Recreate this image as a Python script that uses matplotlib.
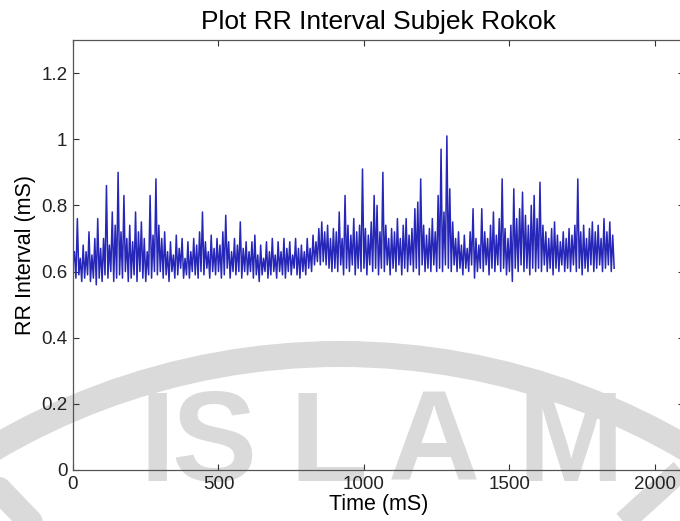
import numpy as np
import matplotlib
matplotlib.use("Agg")
import matplotlib.pyplot as plt
from matplotlib.patches import Wedge

plt.rcParams['font.family'] = ['Liberation Sans', 'DejaVu Sans']

# RR interval samples, one value every 5 samples (trough, peak, trough, ...)
rr = [
    # 0 - 95
    0.62, 0.66, 0.58, 0.76, 0.59, 0.64, 0.57, 0.68, 0.58, 0.66,
    0.59, 0.72, 0.57, 0.65, 0.58, 0.70, 0.56, 0.76, 0.58, 0.67,
    # 100 - 195
    0.57, 0.70, 0.59, 0.86, 0.58, 0.68, 0.60, 0.78, 0.57, 0.74,
    0.58, 0.90, 0.59, 0.72, 0.58, 0.83, 0.60, 0.70, 0.57, 0.74,
    # 200 - 295
    0.58, 0.69, 0.59, 0.78, 0.57, 0.72, 0.60, 0.75, 0.58, 0.70,
    0.57, 0.66, 0.59, 0.83, 0.58, 0.71, 0.60, 0.88, 0.59, 0.74,
    # 300 - 395
    0.60, 0.70, 0.58, 0.72, 0.59, 0.66, 0.57, 0.69, 0.60, 0.65,
    0.58, 0.71, 0.59, 0.67, 0.61, 0.70, 0.58, 0.64, 0.59, 0.69,
    # 400 - 495
    0.58, 0.66, 0.60, 0.70, 0.59, 0.68, 0.58, 0.72, 0.60, 0.78,
    0.59, 0.69, 0.61, 0.66, 0.58, 0.71, 0.60, 0.67, 0.59, 0.70,
    # 500 - 595
    0.60, 0.68, 0.58, 0.72, 0.59, 0.77, 0.61, 0.69, 0.58, 0.66,
    0.60, 0.70, 0.59, 0.68, 0.60, 0.75, 0.58, 0.67, 0.60, 0.69,
    # 600 - 695
    0.59, 0.66, 0.60, 0.69, 0.58, 0.71, 0.59, 0.65, 0.57, 0.68,
    0.59, 0.64, 0.60, 0.69, 0.58, 0.66, 0.59, 0.70, 0.60, 0.65,
    # 700 - 795
    0.58, 0.69, 0.60, 0.66, 0.59, 0.70, 0.58, 0.67, 0.60, 0.69,
    0.59, 0.65, 0.61, 0.70, 0.59, 0.67, 0.58, 0.68, 0.60, 0.66,
    # 800 - 895
    0.59, 0.70, 0.61, 0.67, 0.60, 0.71, 0.62, 0.69, 0.63, 0.73,
    0.62, 0.75, 0.63, 0.72, 0.62, 0.74, 0.61, 0.70, 0.60, 0.73,
    # 900 - 995
    0.61, 0.72, 0.60, 0.78, 0.62, 0.70, 0.59, 0.83, 0.61, 0.74,
    0.60, 0.71, 0.62, 0.76, 0.59, 0.72, 0.61, 0.74, 0.60, 0.91,
    # 1000 - 1095
    0.61, 0.73, 0.59, 0.71, 0.62, 0.75, 0.60, 0.83, 0.61, 0.80,
    0.59, 0.72, 0.61, 0.90, 0.60, 0.74, 0.62, 0.70, 0.59, 0.73,
    # 1100 - 1195
    0.61, 0.72, 0.60, 0.76, 0.62, 0.70, 0.59, 0.74, 0.61, 0.76,
    0.60, 0.71, 0.62, 0.73, 0.60, 0.79, 0.61, 0.81, 0.59, 0.88,
    # 1200 - 1295
    0.62, 0.74, 0.60, 0.71, 0.61, 0.73, 0.60, 0.76, 0.62, 0.72,
    0.60, 0.83, 0.61, 0.97, 0.60, 0.78, 0.62, 1.01, 0.61, 0.85,
    # 1300 - 1395
    0.60, 0.75, 0.62, 0.70, 0.60, 0.72, 0.61, 0.68, 0.59, 0.71,
    0.61, 0.67, 0.60, 0.72, 0.62, 0.79, 0.58, 0.70, 0.60, 0.68,
    # 1400 - 1495
    0.61, 0.79, 0.60, 0.72, 0.62, 0.70, 0.59, 0.74, 0.61, 0.78,
    0.60, 0.71, 0.62, 0.76, 0.60, 0.88, 0.61, 0.73, 0.59, 0.70,
    # 1500 - 1595
    0.60, 0.74, 0.57, 0.85, 0.61, 0.76, 0.60, 0.79, 0.62, 0.84,
    0.60, 0.77, 0.61, 0.74, 0.59, 0.80, 0.61, 0.83, 0.60, 0.76,
    # 1600 - 1695
    0.61, 0.87, 0.60, 0.74, 0.62, 0.72, 0.60, 0.70, 0.61, 0.73,
    0.59, 0.75, 0.61, 0.71, 0.60, 0.69, 0.62, 0.72, 0.60, 0.70,
    # 1700 - 1795
    0.61, 0.73, 0.60, 0.71, 0.62, 0.74, 0.60, 0.88, 0.61, 0.72,
    0.59, 0.74, 0.61, 0.70, 0.60, 0.73, 0.62, 0.75, 0.60, 0.72,
    # 1800 - 1860
    0.61, 0.74, 0.62, 0.70, 0.60, 0.76, 0.61, 0.72, 0.62, 0.75,
    0.60, 0.71, 0.61,
]
step = 5
t = np.arange(len(rr)) * step

xticks = [0, 500, 1000, 1500, 2000]
yticks = [0, 0.2, 0.4, 0.6, 0.8, 1.0, 1.2]
ytick_labels = ['0', '0.2', '0.4', '0.6', '0.8', '1', '1.2']

fig = plt.figure(figsize=(6.8, 5.21), dpi=100)

# background layer in pixel units for the watermark
bg = fig.add_axes([0, 0, 1, 1], zorder=0)
bg.set_xlim(0, 680)
bg.set_ylim(521, 0)
bg.axis('off')
wm = '#dadada'
bg.add_patch(Wedge((340, 1037), 696, 188, 352, width=26, color=wm, lw=0))
bg.plot([615, 690], [530, 462], color=wm, lw=16, solid_capstyle='butt')
bg.plot([-10, 38], [480, 530], color=wm, lw=18, solid_capstyle='round')
for ch, x in zip("ISLAM", [139, 171, 289, 388, 518]):
    bg.text(x, 481, ch, fontsize=92, fontweight='bold', color=wm,
            ha='left', va='baseline')

ax = fig.add_axes([73 / 680, 51 / 521, 611 / 680, 430 / 521], zorder=1)
ax.patch.set_alpha(0)
ax.plot(t, rr, color='#2626b8', lw=1.1)

ax.set_xlim(0, 2100)
ax.set_ylim(0, 1.3)
ax.set_xticks(xticks)
ax.set_yticks(yticks)
ax.set_yticklabels(ytick_labels)
ax.tick_params(direction='in', length=4, top=True, right=True,
               labelsize=13.5, colors='#333333', labelcolor='#222222', pad=4)
for s in ax.spines.values():
    s.set_color('#555555')
    s.set_linewidth(0.9)

ax.set_title('Plot RR Interval Subjek Rokok', fontsize=19, pad=8)
ax.set_xlabel('Time (mS)', fontsize=15.5, labelpad=1)
ax.set_ylabel('RR Interval (mS)', fontsize=15.5, labelpad=4)

fig.savefig('out.png', dpi=100)
